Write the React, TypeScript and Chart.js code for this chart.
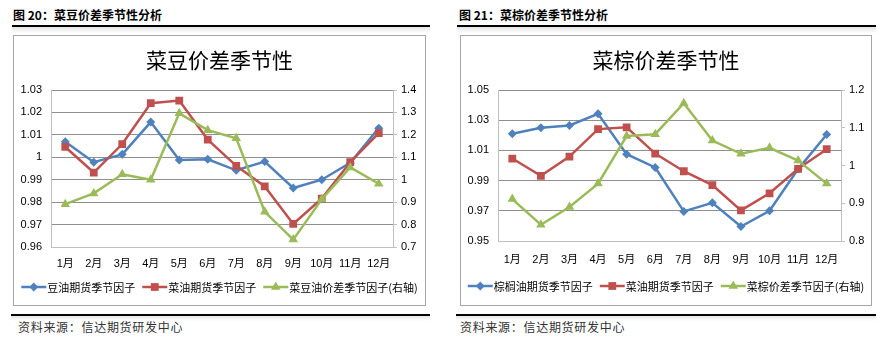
import React, { useEffect, useRef } from "react";
import { Chart, registerables } from "chart.js";

Chart.register(...registerables);

// ---------- data ----------
const months = ["1月", "2月", "3月", "4月", "5月", "6月", "7月", "8月", "9月", "10月", "11月", "12月"];

const soyOilFactor = [1.0069, 0.9978, 1.0013, 1.0157, 0.9988, 0.9991, 0.9942, 0.9981, 0.9863, 0.99, 0.9975, 1.013];
const rapeOilFactor = [1.0046, 0.9932, 1.0059, 1.0241, 1.0253, 1.0079, 0.9962, 0.987, 0.9703, 0.9816, 0.9978, 1.0108];
const rapeSoySpreadFactor = [0.891, 0.939, 1.024, 1.0, 1.296, 1.221, 1.185, 0.857, 0.733, 0.913, 1.055, 0.982];

const palmOilFactor = [1.021, 1.025, 1.0265, 1.0342, 1.0075, 0.9987, 0.9696, 0.9753, 0.9596, 0.97, 0.9976, 1.0205];
const rapePalmSpreadFactor = [0.911, 0.843, 0.89, 0.952, 1.078, 1.083, 1.165, 1.066, 1.031, 1.047, 1.013, 0.952];

const soyLeftTicks = [0.96, 0.97, 0.98, 0.99, 1, 1.01, 1.02, 1.03];
const soyRightTicks = [0.7, 0.8, 0.9, 1, 1.1, 1.2, 1.3, 1.4];
const palmLeftTicks = [0.95, 0.97, 0.99, 1.01, 1.03, 1.05];
const palmRightTicks = [0.8, 0.9, 1, 1.1, 1.2];

const soyLegend = ["豆油期货季节因子", "菜油期货季节因子", "菜豆油价差季节因子(右轴)"];
const palmLegend = ["棕榈油期货季节因子", "菜油期货季节因子", "菜棕价差季节因子(右轴)"];

// ---------- styling ----------
const BLUE = "#4F81BD";
const RED = "#C0504D";
const GREEN = "#9BBB59";
const FONT = '"Liberation Sans", "Noto Sans CJK SC", sans-serif';
const CJK = '"Noto Sans CJK SC", sans-serif';

function fmt(v: number | string) {
  return String(parseFloat(Number(v).toFixed(2)));
}

function drawMarker(ctx: CanvasRenderingContext2D, kind: string, x: number, y: number, r: number) {
  ctx.beginPath();
  if (kind === "rectRot") {
    ctx.moveTo(x - r, y);
    ctx.lineTo(x, y - r);
    ctx.lineTo(x + r, y);
    ctx.lineTo(x, y + r);
  } else if (kind === "rect") {
    const s = r * Math.SQRT1_2;
    ctx.rect(x - s, y - s, 2 * s, 2 * s);
  } else {
    const h = r * 1.5;
    ctx.moveTo(x, y - r);
    ctx.lineTo(x + h / Math.sqrt(3), y + r / 2);
    ctx.lineTo(x - h / Math.sqrt(3), y + r / 2);
  }
  ctx.closePath();
  ctx.fill();
}

const seriesStyle = [
  { color: BLUE, kind: "rectRot", r: 4.5 },
  { color: RED, kind: "rect", r: 5.5 },
  { color: GREEN, kind: "triangle", r: 5.5 },
];

// custom legend: line + marker, text right next to it, centred row
const lineLegend = {
  id: "lineLegend",
  afterDraw(chart: any) {
    const opts = chart.options.plugins.lineLegend;
    if (!opts) return;
    const ctx: CanvasRenderingContext2D = chart.ctx;
    const iconW = 25;
    const textGap = 1;
    const itemGap = 7;
    ctx.save();
    ctx.font = `11px ${CJK}`;
    const items = chart.data.datasets.map((d: any, i: number) => ({
      text: d.label as string,
      w: ctx.measureText(d.label).width,
      st: seriesStyle[i],
    }));
    const total =
      items.reduce((s: number, it: any) => s + iconW + textGap + it.w, 0) + itemGap * (items.length - 1);
    let x = (chart.width - total) / 2;
    const y = opts.y;
    ctx.textBaseline = "middle";
    ctx.textAlign = "left";
    for (const it of items) {
      ctx.strokeStyle = it.st.color;
      ctx.fillStyle = it.st.color;
      ctx.lineWidth = 2.5;
      ctx.beginPath();
      ctx.moveTo(x, y);
      ctx.lineTo(x + iconW, y);
      ctx.stroke();
      drawMarker(ctx, it.st.kind, x + iconW / 2, y, it.st.r);
      x += iconW + textGap;
      ctx.fillStyle = "#000";
      ctx.fillText(it.text, x, y + 0.5);
      x += it.w + itemGap;
    }
    ctx.restore();
  },
};

type Spec = {
  title: string;
  legend: string[];
  left: number[];
  red: number[];
  green: number[];
  leftTicks: number[];
  rightTicks: number[];
  width: number;
  height: number;
  rightW: number;
  xH: number;
  xPad: number;
  padBottom: number;
  legendY: number;
};

function SeasonChart({ spec }: { spec: Spec }) {
  const ref = useRef<HTMLCanvasElement>(null);
  useEffect(() => {
    if (!ref.current) return;
    const tickFont = { size: 11, family: FONT };
    const gridColor = (c: any) => (c.index === 0 ? "rgba(0,0,0,0)" : "#8f8f8f");
    const mk = (i: number, data: number[], axis: string, order: number) => ({
      label: spec.legend[i],
      data,
      yAxisID: axis,
      borderColor: seriesStyle[i].color,
      backgroundColor: seriesStyle[i].color,
      borderWidth: 2.5,
      pointStyle: seriesStyle[i].kind,
      pointRadius: seriesStyle[i].r,
      pointBorderWidth: 0,
      tension: 0,
      order,
    });
    const chart = new Chart(ref.current, {
      type: "line",
      data: {
        labels: months,
        datasets: [mk(0, spec.left, "y", 3), mk(1, spec.red, "y", 2), mk(2, spec.green, "y1", 1)],
      },
      plugins: [lineLegend],
      options: {
        animation: false,
        responsive: false,
        maintainAspectRatio: false,
        events: [],
        layout: { padding: { left: 0, right: 0, top: 0, bottom: spec.padBottom } },
        plugins: {
          title: {
            display: true,
            text: spec.title,
            color: "#000",
            font: { size: 21, family: CJK, weight: "normal" },
            padding: { top: 11.5, bottom: 17.3 },
          },
          legend: { display: false },
          tooltip: { enabled: false },
          lineLegend: { y: spec.legendY },
        },
        scales: {
          x: {
            type: "category",
            offset: true,
            grid: { display: false, drawTicks: false },
            border: { color: "#bfbfbf", width: 1 },
            ticks: { font: tickFont, color: "#000", padding: spec.xPad, maxRotation: 0, autoSkip: false },
            afterFit: (s: any) => {
              s.height = spec.xH;
            },
          },
          y: {
            type: "linear",
            position: "left",
            min: spec.leftTicks[0],
            max: spec.leftTicks[spec.leftTicks.length - 1],
            afterBuildTicks: (s: any) => {
              s.ticks = spec.leftTicks.map((v) => ({ value: v }));
            },
            grid: { color: gridColor, drawTicks: false, lineWidth: 1 },
            border: { color: "#bfbfbf", width: 1 },
            ticks: { font: tickFont, color: "#000", padding: 9, callback: (v: any) => fmt(v) },
            afterFit: (s: any) => {
              s.width = 37;
            },
          },
          y1: {
            type: "linear",
            position: "right",
            min: spec.rightTicks[0],
            max: spec.rightTicks[spec.rightTicks.length - 1],
            afterBuildTicks: (s: any) => {
              s.ticks = spec.rightTicks.map((v) => ({ value: v }));
            },
            grid: { drawOnChartArea: false, drawTicks: true, tickLength: 4, color: "#bfbfbf" },
            border: { color: "#bfbfbf", width: 1 },
            ticks: { font: tickFont, color: "#000", padding: 4, callback: (v: any) => fmt(v) },
            afterFit: (s: any) => {
              s.width = spec.rightW;
            },
          },
        },
      } as any,
    });
    return () => chart.destroy();
  }, [spec]);
  return (
    <canvas
      ref={ref}
      width={spec.width}
      height={spec.height}
      style={{ display: "block", width: spec.width, height: spec.height }}
    />
  );
}

const soySpec: Spec = {
  title: "菜豆价差季节性",
  legend: soyLegend,
  left: soyOilFactor,
  red: rapeOilFactor,
  green: rapeSoySpreadFactor,
  leftTicks: soyLeftTicks,
  rightTicks: soyRightTicks,
  width: 411,
  height: 269,
  rightW: 32,
  xH: 23.4,
  xPad: 10.4,
  padBottom: 34.6,
  legendY: 251,
};

const palmSpec: Spec = {
  title: "菜棕价差季节性",
  legend: palmLegend,
  left: palmOilFactor,
  red: rapeOilFactor,
  green: rapePalmSpreadFactor,
  leftTicks: palmLeftTicks,
  rightTicks: palmRightTicks,
  width: 410,
  height: 269,
  rightW: 30,
  xH: 28.4,
  xPad: 12.4,
  padBottom: 35.6,
  legendY: 250,
};

function Panel({ x, caption, spec, lineL, lineW, boxL, boxW, srcL }: any) {
  return (
    <>
      <div
        style={{
          position: "absolute",
          left: x,
          top: 7,
          font: `bold 12px ${CJK}`,
          lineHeight: "16px",
          color: "#000",
          whiteSpace: "nowrap",
        }}
      >
        {caption}
      </div>
      <div style={{ position: "absolute", left: lineL, top: 25, width: lineW, height: 2, background: "#000" }} />
      <div
        style={{
          position: "absolute",
          left: lineL,
          top: 27,
          width: lineW,
          height: 6,
          background: "linear-gradient(#e4e4e4, #ffffff)",
        }}
      />
      <div
        style={{
          position: "absolute",
          left: boxL,
          top: 35,
          width: boxW,
          height: 271,
          border: "1px solid #a6a6a6",
          boxSizing: "border-box",
          background: "#fff",
        }}
      >
        <SeasonChart spec={spec} />
      </div>
      <div style={{ position: "absolute", left: lineL - 1, top: 314, width: lineW + 1, height: 2, background: "#000" }} />
      <div
        style={{
          position: "absolute",
          left: lineL - 1,
          top: 316,
          width: lineW + 1,
          height: 5,
          background: "linear-gradient(#e4e4e4, #ffffff)",
        }}
      />
      <div
        style={{
          position: "absolute",
          left: srcL,
          top: 319,
          font: `12px ${CJK}`,
          lineHeight: "16px",
          letterSpacing: "0.7px",
          color: "#333",
          whiteSpace: "nowrap",
        }}
      >
        资料来源：信达期货研发中心
      </div>
    </>
  );
}

export default function App() {
  return (
    <div style={{ position: "absolute", left: 0, top: 0, width: 896, height: 362, background: "#fff", overflow: "hidden" }}>
      <Panel x={13} caption="图 20：菜豆价差季节性分析" spec={soySpec} lineL={12} lineW={418} boxL={13} boxW={413} srcL={18} />
      <Panel x={459} caption="图 21：菜棕价差季节性分析" spec={palmSpec} lineL={457} lineW={419} boxL={460} boxW={412} srcL={460} />
    </div>
  );
}
